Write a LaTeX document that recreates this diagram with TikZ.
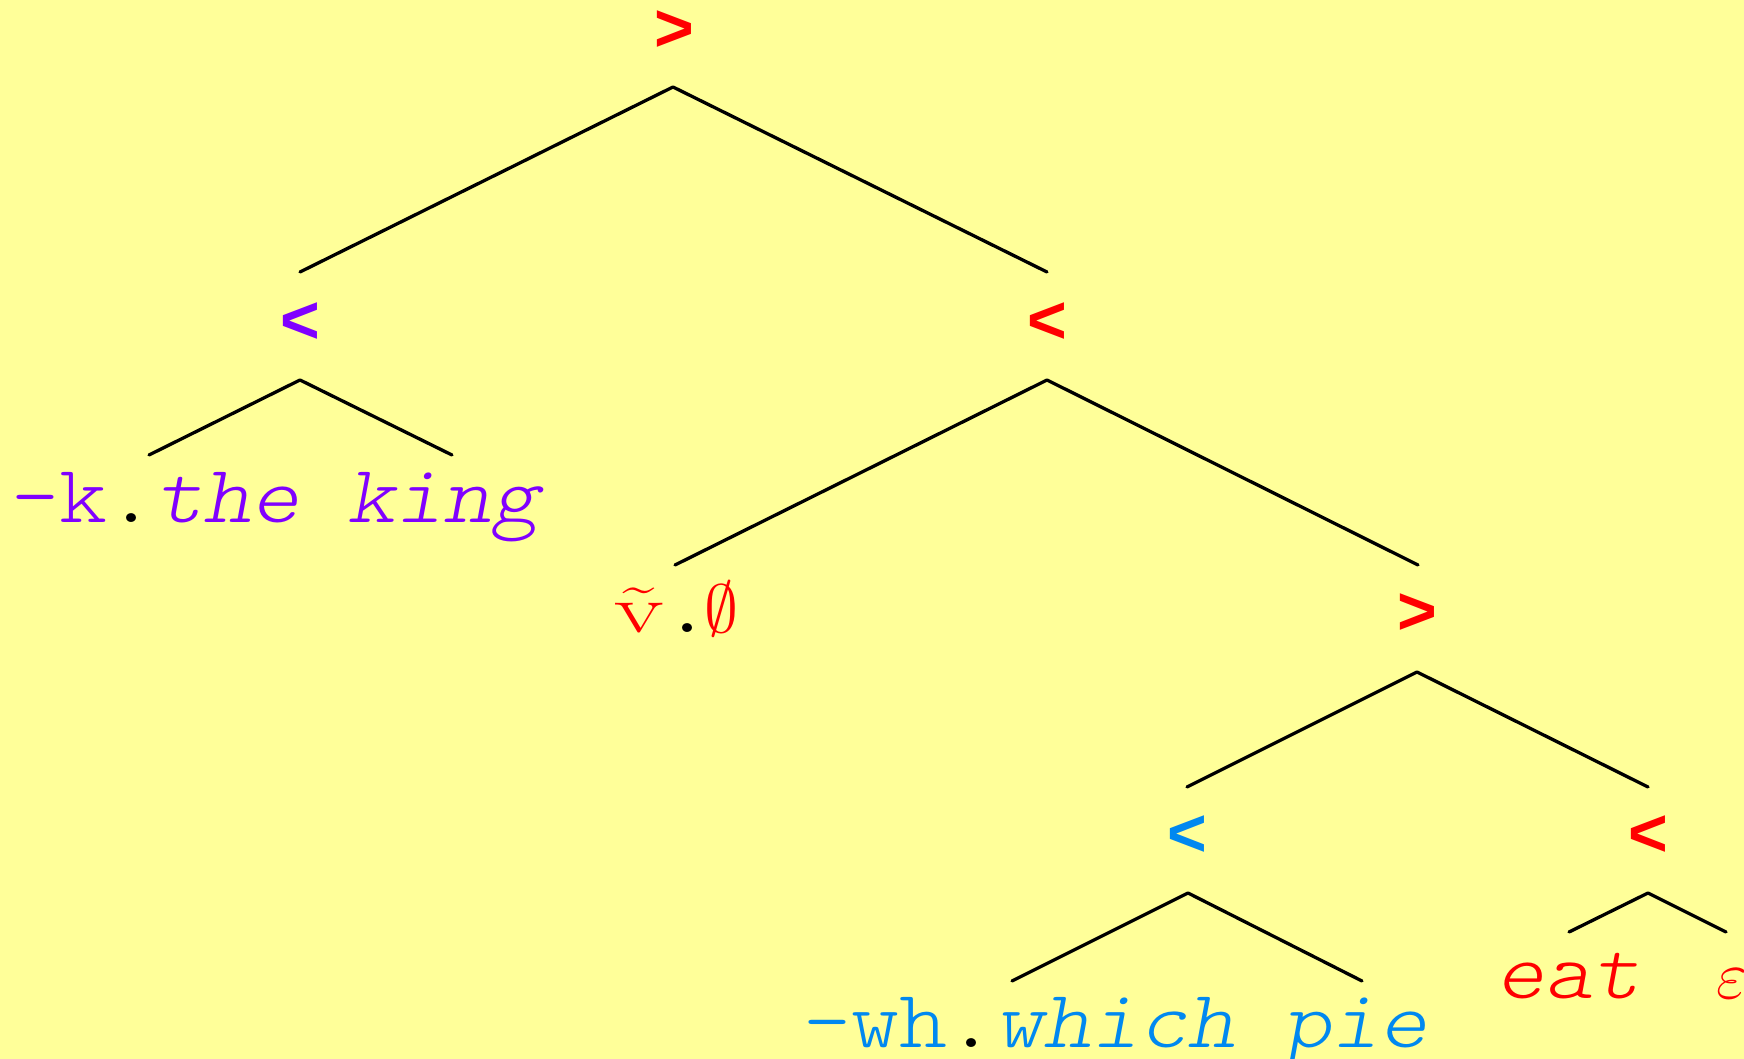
\RequirePackage{fix-cm}
\documentclass[tikz,border=0pt]{standalone}
\usepackage{fontspec}
\setmonofont{lmmonolt10-regular.otf}[ItalicFont=lmmonolt10-oblique.otf, FakeStretch=1.115]
\newfontfamily\symfont{Liberation Sans}
\definecolor{bg}{RGB}{255,255,153}
\definecolor{cred}{RGB}{255,0,0}
\definecolor{cpurple}{RGB}{128,0,255}
\definecolor{cblue}{RGB}{0,136,240}
\begin{document}
\begin{tikzpicture}[x=0.5pt,y=-0.5pt,
  op/.style={inner sep=0pt, font=\symfont\bfseries\fontsize{34}{34}\selectfont},
  leaf/.style={inner sep=0pt, anchor=base west, font=\ttfamily\fontsize{41}{41}\selectfont},
  mathleaf/.style={inner sep=0pt, anchor=base west, font=\fontsize{34}{34}\selectfont},
  edge/.style={line width=1.65pt, line cap=round, line join=round}]
\fill[bg] (0,0) rectangle (1744,1059);
\useasboundingbox (0,0) rectangle (1744,1059);

% root
\node[op,text=cred] (n0) at (674,31) {>};
\coordinate (n0a) at (673,87);
\coordinate (n1t) at (300,272);
\coordinate (n2t) at (1047,272);
\draw[edge] (n1t) -- (n0a) -- (n2t);

% left subtree
\node[op,text=cpurple] (n1) at (300,323) {<};
\coordinate (n1a) at (300,380);
\coordinate (l1l) at (149,455);
\coordinate (l1r) at (452,455);
\draw[edge] (l1l) -- (n1a) -- (l1r);
\node[leaf,text=cpurple] (l1) at (11,522) {-k\textcolor{black}{.}\textit{the king}};

% right subtree
\node[op,text=cred] (n2) at (1047,323) {<};
\coordinate (n2a) at (1047,380);
\coordinate (l2t) at (675,565);
\coordinate (n3t) at (1418,565);
\draw[edge] (l2t) -- (n2a) -- (n3t);
\node[mathleaf,text=cred] (l2) at (614,632)
  {\scalebox{1.5}[1]{$\tilde{\mathrm{v}}$}\textcolor{black}{\ttfamily\fontsize{41}{41}\selectfont.}\kern-3.5pt$\emptyset$};

\node[op,text=cred] (n3) at (1417,614) {>};
\coordinate (n3a) at (1417,672);
\coordinate (n4t) at (1187,787);
\coordinate (n5t) at (1648,787);
\draw[edge] (n4t) -- (n3a) -- (n5t);

\node[op,text=cblue] (n4) at (1187,836) {<};
\coordinate (n4a) at (1188,893);
\coordinate (l4l) at (1012,981);
\coordinate (l4r) at (1362,981);
\draw[edge] (l4l) -- (n4a) -- (l4r);
\node[leaf,text=cblue] (l4) at (803,1047) {-wh\textcolor{black}{.}\textit{which pie}};

\node[op,text=cred] (n5) at (1648,836) {<};
\coordinate (n5a) at (1648,893);
\coordinate (l5l) at (1569,932);
\coordinate (l5r) at (1726,932);
\draw[edge] (l5l) -- (n5a) -- (l5r);
\node[leaf,text=cred] (l5) at (1496,998) {\textit{eat}};
\node[mathleaf,text=cred] (l5e) at (1716,998) {$\varepsilon$};
\end{tikzpicture}
\end{document}
